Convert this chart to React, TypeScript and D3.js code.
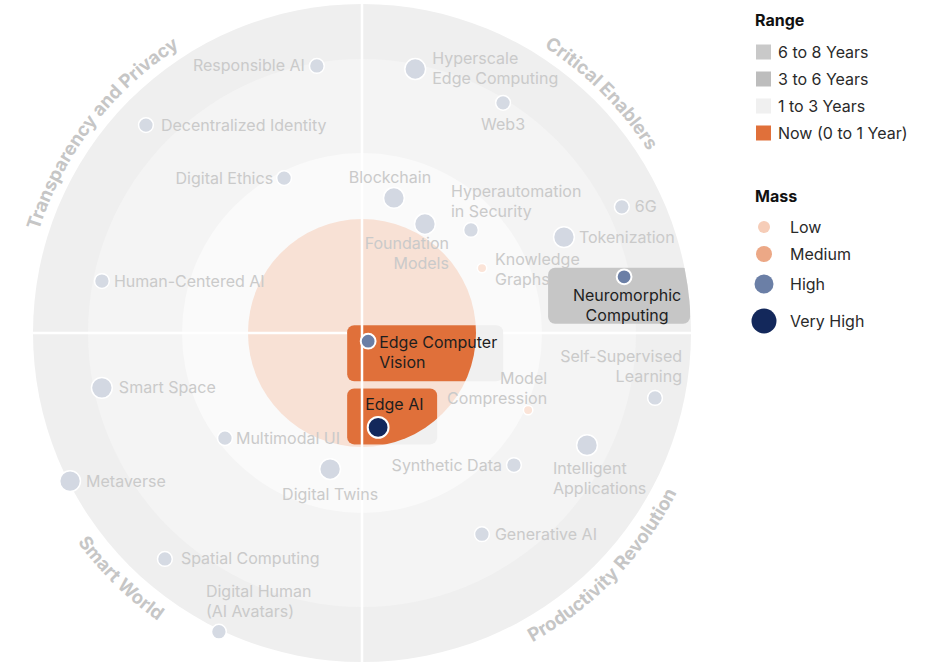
import React, { useEffect, useRef } from "react";
import * as d3 from "d3";

const W = 931;
const H = 663;
const cx = 362;
const cy = 333;

// rings: years from now -> radius
const ringYears = [0, 1, 3, 6, 8];
const ringRadii = [0, 114, 180, 274, 329];
const ringFills = ["#f8e1d5", "#fafafa", "#f4f4f4", "#efefef"]; // now, 1-3, 3-6, 6-8

const rangeLabels = ["6 to 8 Years", "3 to 6 Years", "1 to 3 Years", "Now (0 to 1 Year)"];
const rangeColors = ["#c9c9c9", "#bdbdbd", "#f0f0f0", "#e0703a"];

const massLabels = ["Low", "Medium", "High", "Very High"];
const massColors = ["#f6cdb8", "#eca886", "#6b7fa6", "#13285b"];
const fadedColors = ["#fbe4d8", "#f6d6c4", "#d5dae3", "#d3d8e2"];

const quadrants = ["Transparency and Privacy", "Critical Enablers", "Productivity Revolution", "Smart World"];
const quadrantAngles = [-52.5, 45, 134, -135.5];

const techNames = [
  "Responsible AI", "Decentralized Identity", "Digital Ethics", "Human-Centered AI",
  "Blockchain", "Foundation Models", "Hyperautomation in Security", "Knowledge Graphs",
  "Hyperscale Edge Computing", "Web3", "6G", "Tokenization", "Neuromorphic Computing",
  "Self-Supervised Learning", "Model Compression", "Intelligent Applications", "Synthetic Data",
  "Generative AI", "Edge Computer Vision", "Edge AI",
  "Smart Space", "Multimodal UI", "Digital Twins", "Metaverse", "Spatial Computing",
  "Digital Human (AI Avatars)",
];
// degrees clockwise from 12 o'clock
const techAngle = [
  -9.6, -46.1, -26.7, -78.7,
  13.3, 30.0, 46.6, 61.6,
  11.4, 31.5, 64.1, 64.6, 77.9,
  102.5, 114.9, 116.5, 131.0,
  149.2, 143.1, 170.3,
  -101.9, -127.5, -166.8, -116.9, -138.9,
  -154.4,
];
// years to impact
const techYears = [
  5.9, 6.94, 2.8, 5.72,
  1.75, 1.36, 2.09, 1.68,
  5.85, 5.87, 6.54, 4.39, 5.81,
  6.95, 3.1, 5.28, 3.68,
  4.73, 0.09, 0.84,
  5.74, 2.78, 1.78, 7.94, 6.94,
  8.08,
];
// 0 low, 1 medium, 2 high, 3 very high
const techMass = [
  2, 2, 2, 2,
  3, 3, 2, 0,
  3, 2, 2, 3, 2,
  2, 0, 3, 2,
  2, 2, 3,
  3, 2, 3, 3, 2,
  2,
];
const highlighted = ["Edge Computer Vision", "Edge AI", "Neuromorphic Computing"];

// label layout relative to the dot
type Lab = { anchor: string; dx: number; dy: number; lines?: string[] };
const labelLayout: Record<string, Lab> = {
  "Responsible AI": { anchor: "end", dx: -12, dy: 0 },
  "Decentralized Identity": { anchor: "start", dx: 15, dy: 0 },
  "Digital Ethics": { anchor: "end", dx: -11, dy: 0 },
  "Human-Centered AI": { anchor: "start", dx: 12, dy: 0 },
  "Blockchain": { anchor: "middle", dx: -4, dy: -20 },
  "Foundation Models": { anchor: "end", dx: 24, dy: 20, lines: ["Foundation", "Models"] },
  "Hyperautomation in Security": { anchor: "start", dx: -20, dy: -38, lines: ["Hyperautomation", "in Security"] },
  "Knowledge Graphs": { anchor: "start", dx: 13, dy: -9, lines: ["Knowledge", "Graphs"] },
  "Hyperscale Edge Computing": { anchor: "start", dx: 17, dy: -11, lines: ["Hyperscale", "Edge Computing"] },
  "Web3": { anchor: "middle", dx: 0, dy: 22 },
  "6G": { anchor: "start", dx: 13, dy: 0 },
  "Tokenization": { anchor: "start", dx: 15, dy: 0 },
  "Neuromorphic Computing": { anchor: "middle", dx: 3, dy: 19, lines: ["Neuromorphic", "Computing"] },
  "Self-Supervised Learning": { anchor: "end", dx: 27, dy: -41, lines: ["Self-Supervised", "Learning"] },
  "Model Compression": { anchor: "end", dx: 19, dy: -32, lines: ["Model", "Compression"] },
  "Intelligent Applications": { anchor: "start", dx: -34, dy: 23, lines: ["Intelligent", "Applications"] },
  "Synthetic Data": { anchor: "end", dx: -12, dy: 0 },
  "Generative AI": { anchor: "start", dx: 13, dy: 0 },
  "Edge Computer Vision": { anchor: "start", dx: 11, dy: 1, lines: ["Edge Computer", "Vision"] },
  "Edge AI": { anchor: "start", dx: -13, dy: -23 },
  "Smart Space": { anchor: "start", dx: 17, dy: 0 },
  "Multimodal UI": { anchor: "start", dx: 11, dy: 0 },
  "Digital Twins": { anchor: "middle", dx: 0, dy: 25 },
  "Metaverse": { anchor: "start", dx: 16, dy: 0 },
  "Spatial Computing": { anchor: "start", dx: 16, dy: 0 },
  "Digital Human (AI Avatars)": { anchor: "start", dx: -13, dy: -40, lines: ["Digital Human", "(AI Avatars)"] },
};

// highlight boxes, offsets from the dot
const boxLayout: Record<string, { x0: number; x1: number; y0: number; y1: number; fill: string; nowClip: boolean }> = {
  "Edge Computer Vision": { x0: -21, x1: 135, y0: -16, y1: 40, fill: "#f0f0f0", nowClip: true },
  "Edge AI": { x0: -31, x1: 59, y0: -39, y1: 17, fill: "#f0f0f0", nowClip: true },
  "Neuromorphic Computing": { x0: -76, x1: 66, y0: -9, y1: 47, fill: "#c6c6c6", nowClip: false },
};

const dotR = [5.5, 7, 8.2, 11.2];
const legendR = [6, 8, 9.5, 12.5];

export default function App() {
  const ref = useRef<SVGSVGElement>(null);

  useEffect(() => {
    const svg = d3.select(ref.current);
    svg.selectAll("*").remove();

    const rScale = d3.scaleLinear().domain(ringYears).range(ringRadii);
    const aScale = d3.scaleLinear().domain([0, 360]).range([0, 2 * Math.PI]);
    const pos = (a: number, r: number) => {
      const t = aScale(a);
      return [cx + r * Math.sin(t), cy - r * Math.cos(t)];
    };
    const outerR = rScale(8);
    const nowR = rScale(1);

    const defs = svg.append("defs");
    defs.append("clipPath").attr("id", "nowClip")
      .append("circle").attr("cx", cx).attr("cy", cy).attr("r", nowR);
    defs.append("clipPath").attr("id", "outerClip")
      .append("circle").attr("cx", cx).attr("cy", cy).attr("r", outerR);

    // rings
    const g = svg.append("g");
    g.selectAll(".ring")
      .data([4, 3, 2, 1])
      .join("circle")
      .attr("class", "ring")
      .attr("cx", cx)
      .attr("cy", cy)
      .attr("r", (i) => rScale(ringYears[i]))
      .attr("fill", (i) => ringFills[i - 1]);

    // horizontal divider
    g.append("line")
      .attr("x1", cx - outerR).attr("x2", cx + outerR)
      .attr("y1", cy).attr("y2", cy)
      .attr("stroke", "#fff").attr("stroke-width", 2.5);

    const techs = techNames.map((name, i) => {
      const [x, y] = pos(techAngle[i], rScale(techYears[i]));
      return { name, x, y, mass: techMass[i], hi: highlighted.includes(name) };
    });

    // highlight boxes
    const boxG = g.append("g").attr("clip-path", "url(#outerClip)");
    techs.filter((d) => d.hi).forEach((d) => {
      const b = boxLayout[d.name];
      boxG.append("rect")
        .attr("x", d.x + b.x0).attr("y", d.y + b.y0)
        .attr("width", b.x1 - b.x0).attr("height", b.y1 - b.y0)
        .attr("rx", 7).attr("fill", b.fill);
      if (b.nowClip) {
        boxG.append("g").attr("clip-path", "url(#nowClip)")
          .append("rect")
          .attr("x", d.x + b.x0).attr("y", d.y + b.y0)
          .attr("width", b.x1 - b.x0).attr("height", b.y1 - b.y0)
          .attr("rx", 7).attr("fill", rangeColors[3]);
      }
    });

    // vertical divider
    g.append("line")
      .attr("x1", cx).attr("x2", cx)
      .attr("y1", cy - outerR).attr("y2", cy + outerR)
      .attr("stroke", "#fff").attr("stroke-width", 2.5);

    // labels
    const labG = g.append("g").style("font-size", "16px");
    techs.forEach((d) => {
      const l = labelLayout[d.name];
      const lines = l.lines || [d.name];
      const t = labG.append("text")
        .attr("text-anchor", l.anchor)
        .attr("fill", d.hi ? "#1e1e1e" : "#cacaca");
      lines.forEach((s, k) => {
        t.append("tspan")
          .attr("x", d.x + l.dx)
          .attr("y", d.y + l.dy + k * 20 + 5.5)
          .text(s);
      });
    });

    // dots
    g.selectAll(".dot")
      .data(techs)
      .join("circle")
      .attr("class", "dot")
      .attr("cx", (d) => d.x)
      .attr("cy", (d) => d.y)
      .attr("r", (d) => dotR[d.mass] - 0.8)
      .attr("fill", (d) => (d.hi ? massColors[d.mass] : fadedColors[d.mass]))
      .attr("stroke", "#fff")
      .attr("stroke-width", (d) => (d.hi ? 2 : 1.5));

    // quadrant names along the rim
    quadrants.forEach((q, i) => {
      const mid = quadrantAngles[i];
      const top = Math.abs(mid) < 90;
      const r = top ? 339 : 353;
      const [x0, y0] = pos(top ? mid - 60 : mid + 60, r);
      const [x1, y1] = pos(top ? mid + 60 : mid - 60, r);
      const dStr = `M ${x0} ${y0} A ${r} ${r} 0 0 ${top ? 1 : 0} ${x1} ${y1}`;
      defs.append("path").attr("id", `qpath${i}`).attr("d", dStr);
      svg.append("text")
        .style("font-size", "18.5px")
        .style("font-weight", 700)
        .attr("fill", "#c6c6c6")
        .append("textPath")
        .attr("href", `#qpath${i}`)
        .attr("startOffset", "50%")
        .attr("text-anchor", "middle")
        .text(q);
    });

    // legend
    const lg = svg.append("g").attr("transform", "translate(755,0)");
    lg.append("text").attr("x", 0).attr("y", 26)
      .style("font-size", "16px").style("font-weight", 700).attr("fill", "#111").text("Range");
    const yRange = d3.scalePoint().domain(rangeLabels).range([52, 133]);
    lg.selectAll(".rsw")
      .data(rangeLabels)
      .join("rect")
      .attr("class", "rsw")
      .attr("x", 1)
      .attr("y", (d) => (yRange(d) as number) - 7.5)
      .attr("width", 15).attr("height", 15)
      .attr("fill", (d, i) => rangeColors[i]);
    lg.selectAll(".rlab")
      .data(rangeLabels)
      .join("text")
      .attr("class", "rlab")
      .attr("x", 23)
      .attr("y", (d) => (yRange(d) as number) + 5.5)
      .style("font-size", "16px")
      .attr("fill", "#2a2a2a")
      .text((d) => d);

    lg.append("text").attr("x", 0).attr("y", 202)
      .style("font-size", "16px").style("font-weight", 700).attr("fill", "#111").text("Mass");
    const yMass = [227, 254, 284, 321];
    lg.selectAll(".msw")
      .data(massLabels)
      .join("circle")
      .attr("class", "msw")
      .attr("cx", 9)
      .attr("cy", (d, i) => yMass[i])
      .attr("r", (d, i) => legendR[i])
      .attr("fill", (d, i) => massColors[i]);
    lg.selectAll(".mlab")
      .data(massLabels)
      .join("text")
      .attr("class", "mlab")
      .attr("x", 35)
      .attr("y", (d, i) => yMass[i] + 5.5)
      .style("font-size", "16px")
      .attr("fill", "#2a2a2a")
      .text((d) => d);
  }, []);

  return (
    <svg
      ref={ref}
      width={W}
      height={H}
      style={{ position: "absolute", left: 0, top: 0, background: "#fff", fontFamily: "Inter, 'Noto Sans', sans-serif" }}
    />
  );
}
